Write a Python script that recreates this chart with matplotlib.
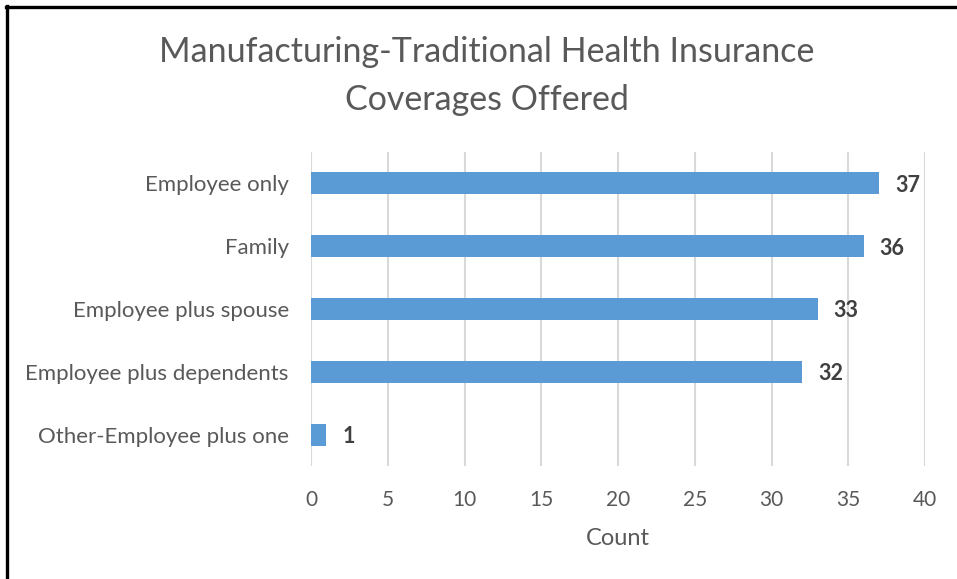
import matplotlib.pyplot as plt
from matplotlib.lines import Line2D

categories = ['Employee only', 'Family', 'Employee plus spouse',
              'Employee plus dependents', 'Other-Employee plus one']
counts = [37, 36, 33, 32, 1]
xticks = [0, 5, 10, 15, 20, 25, 30, 35, 40]

plt.rcParams['font.family'] = ['Lato', 'DejaVu Sans']

fig = plt.figure(figsize=(9.57, 5.79), dpi=100)
ax = fig.add_axes([311 / 957, 1 - 466 / 579, 614 / 957, 314 / 579])

pos = list(range(len(categories)))
ax.barh(pos, counts, height=0.35, color='#5B9BD5', zorder=3)
for p, c in zip(pos, counts):
    ax.text(c + 1.05, p + 0.03, str(c), va='center', ha='left', fontsize=15.5,
            fontweight='bold', color='#404040')

ax.set_ylim(len(categories) - 0.5, -0.5)
ax.set_xlim(0, 40)
ax.set_xticks(xticks)
ax.set_yticks(pos)
ax.set_yticklabels(categories)
ax.tick_params(axis='x', length=0, labelsize=15, labelcolor='#595959', pad=17)
ax.tick_params(axis='y', length=0, labelsize=16, labelcolor='#595959', pad=16)
ax.grid(axis='x', color='#D9D9D9', linewidth=1.5, zorder=0)
for s in ax.spines.values():
    s.set_visible(False)
ax.set_xlabel('Count', fontsize=17, color='#595959', labelpad=13)

fig.text(487 / 957, 1 - 76 / 579,
         'Manufacturing-Traditional Health Insurance\nCoverages Offered',
         ha='center', va='center', fontsize=24.5, color='#595959',
         linespacing=1.58)

# border on top and left only
fig.add_artist(Line2D([6 / 957, 1], [1 - 7 / 579, 1 - 7 / 579],
                      color='black', linewidth=2.4, transform=fig.transFigure))
fig.add_artist(Line2D([7 / 957, 7 / 957], [0, 1 - 6 / 579],
                      color='black', linewidth=2.4, transform=fig.transFigure))

fig.savefig('out.png', dpi=100)
